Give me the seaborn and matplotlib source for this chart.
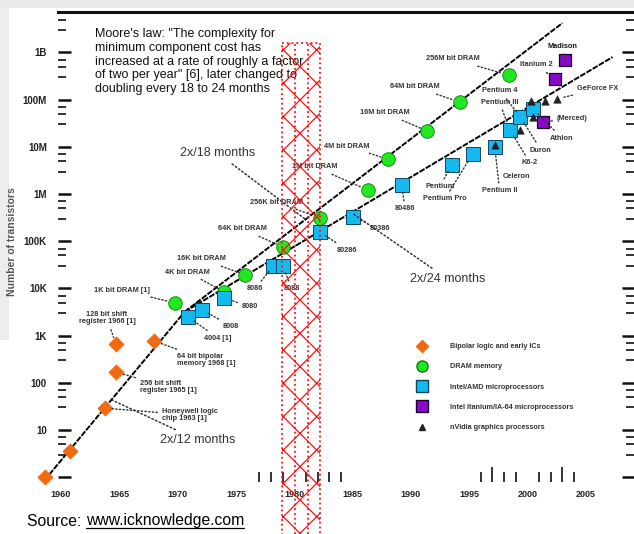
import matplotlib
matplotlib.use("Agg")
import matplotlib.pyplot as plt
import seaborn as sns
import pandas as pd
from matplotlib.transforms import Affine2D, blended_transform_factory
from matplotlib.patches import Rectangle
from matplotlib.lines import Line2D
from matplotlib.ticker import FixedLocator, NullFormatter

# ---------------- data ----------------
bipolar_year = [1958.6, 1960.8, 1963.8, 1964.7, 1964.7, 1968.0]
bipolar_count = [1, 3.6, 29, 169, 665, 770]

dram_year = [1969.8, 1974.0, 1975.8, 1979.0, 1982.2, 1986.3, 1988.0, 1991.4, 1994.2, 1998.4]
dram_count = [4.9e3, 8.4e3, 1.93e4, 7.6e4, 3.1e5, 1.22e6, 5.5e6, 2.17e7, 8.9e7, 3.3e8]

cpu_year = [1970.9, 1972.1, 1974.0, 1978.2, 1979.0, 1982.2, 1985.0, 1989.2,
            1993.5, 1995.3, 1997.2, 1998.5, 1999.4, 2000.5]
cpu_count = [2.5e3, 3.5e3, 6.3e3, 3.0e4, 3.0e4, 1.57e5, 3.27e5, 1.56e6,
             4.1e6, 7.1e6, 9.9e6, 2.28e7, 4.3e7, 6.3e7]

ia64_year = [2001.3, 2002.4, 2003.2]
ia64_count = [3.4e7, 2.7e8, 6.9e8]

gpu_year = [1997.2, 1999.4, 2000.5, 2000.3, 2001.5, 2002.5]
gpu_count = [1.1e7, 2.3e7, 4.3e7, 9.4e7, 9.4e7, 1.03e8]

trend_rate = ["12", "12", "18", "18", "24", "24"]
trend_year = [1958.6, 1970.6, 1970.6, 2003.0, 1970.6, 2007.3]
trend_count = [0.87, 3.2e3, 3.2e3, 4.2e9, 3.2e3, 8.0e8]

legend_labels = ["Bipolar logic and early ICs", "DRAM memory",
                 "Intel/AMD microprocessors", "Intel Itanium/IA-64 microprocessors",
                 "nVidia graphics processors"]

ytick_values = [1, 10, 100, 1e3, 1e4, 1e5, 1e6, 1e7, 1e8, 1e9, 1e10]
ytick_labels = ["1", "10", "100", "1K", "10K", "100K", "1M", "10M", "100M", "1B", "10B"]
xtick_years = [1960, 1965, 1970, 1975, 1980, 1985, 1990, 1995, 2000, 2005]
xminor_years = [1977, 1978, 1979, 1980, 1981, 1982, 1983, 1984, 1985,
                1996, 1997, 1998, 1999, 2000, 2001, 2002, 2003, 2004]

point_notes = [
    ("bip", 4, "128 bit shift\nregister 1966 [1]"),
    ("bip", 5, "64 bit bipolar\nmemory 1968 [1]"),
    ("bip", 3, "256 bit shift\nregister 1965 [1]"),
    ("bip", 2, "Honeywell logic\nchip 1963 [1]"),
    ("dram", 0, "1K bit DRAM [1]"),
    ("dram", 1, "4K bit DRAM"),
    ("dram", 2, "16K bit DRAM"),
    ("dram", 3, "64K bit DRAM"),
    ("dram", 4, "256K bit DRAM"),
    ("dram", 5, "1M bit DRAM"),
    ("dram", 6, "4M bit DRAM"),
    ("dram", 7, "16M bit DRAM"),
    ("dram", 8, "64M bit DRAM"),
    ("dram", 9, "256M bit DRAM"),
    ("cpu", 0, "4004 [1]"),
    ("cpu", 1, "8008"),
    ("cpu", 2, "8080"),
    ("cpu", 3, "8086"),
    ("cpu", 4, "8088"),
    ("cpu", 5, "80286"),
    ("cpu", 6, "80386"),
    ("cpu", 7, "80486"),
    ("cpu", 8, "Pentium"),
    ("cpu", 9, "Pentium Pro"),
    ("cpu", 10, "Pentium II"),
    ("cpu", 10, "Celeron"),
    ("cpu", 11, "Pentium III"),
    ("cpu", 12, "Pentium 4"),
    ("cpu", 13, "Athlon"),
    ("cpu", 12, "Duron"),
    ("cpu", 11, "K6-2"),
    ("ia64", 0, "(Merced)"),
    ("ia64", 1, "Itanium 2"),
    ("ia64", 2, "Madison"),
    ("gpu", 5, "GeForce FX"),
]
line_notes = ["2x/18 months", "2x/24 months", "2x/12 months"]
moore_text = ("Moore's law: \"The complexity for\n"
              "minimum component cost has\n"
              "increased at a rate of roughly a factor\n"
              "of two per year\" [6], later changed to\n"
              "doubling every 18 to 24 months")

# ---------------- layout ----------------
W, H = 634, 534
# (x, y, ha, leader) in image pixels for each point note
note_pos = [
    (107, 318, "center", True), (177, 360, "left", True), (140, 387, "left", True),
    (162, 415, "left", True),
    (150, 290, "right", True), (210, 272, "right", True), (226, 259, "right", True),
    (267, 229, "right", True), (303, 202, "right", True), (338, 167, "right", True),
    (370, 146, "right", True), (410, 113, "right", True), (440, 87, "right", True),
    (480, 59, "right", True),
    (204, 338, "left", True), (223, 326, "left", True), (242, 307, "left", True),
    (255, 289, "center", True), (292, 289, "center", True), (337, 250, "left", True),
    (370, 228, "left", True), (395, 209, "left", True), (425, 187, "left", True),
    (423, 199, "left", True), (482, 191, "left", True), (503, 177, "left", False),
    (518, 102, "right", True), (518, 91, "right", True), (550, 138, "left", True),
    (530, 150, "left", True), (522, 163, "left", True),
    (557, 119, "left", True), (520, 65, "left", True), (547, 46, "left", True),
    (577, 89, "left", True),
]
line_note_pos = [((180, 153), (305, 219)), ((410, 279), (352, 213)), ((160, 440), (112, 400))]

sns.set_theme(style="white")
plt.rcParams["font.family"] = ["Liberation Sans", "DejaVu Sans"]
plt.rcParams["hatch.linewidth"] = 0.9

fig = plt.figure(figsize=(W / 100, H / 100), dpi=100)
fig.patch.set_facecolor("white")
PX = Affine2D().scale(1 / W, -1 / H).translate(0, 1) + fig.transFigure

ax = fig.add_axes([58 / W, 1 - 482 / H, (634 - 58) / W, (482 - 12) / H])
ax.set_facecolor("none")

trend = pd.DataFrame({"year": trend_year, "count": trend_count, "rate": trend_rate})
sns.lineplot(data=trend, x="year", y="count", units="rate", estimator=None,
             color="black", lw=1.4, linestyle=(0, (3, 0.7)), ax=ax, zorder=2,
             clip_on=False)

c_orange, c_green, c_cyan, c_purple = "#f26a10", "#22e822", "#14b9f0", "#8a08c8"
sns.scatterplot(x=bipolar_year, y=bipolar_count, marker="D", s=60, color=c_orange,
                edgecolor=c_orange, linewidth=0.5, ax=ax, zorder=3, clip_on=False)
sns.scatterplot(x=dram_year, y=dram_count, marker="o", s=95, color=c_green,
                edgecolor="#0a7a0a", linewidth=0.6, ax=ax, zorder=3)
sns.scatterplot(x=cpu_year, y=cpu_count, marker="s", s=95, color=c_cyan,
                edgecolor="#0b4660", linewidth=0.7, ax=ax, zorder=3)
sns.scatterplot(x=ia64_year, y=ia64_count, marker="s", s=80, color=c_purple,
                edgecolor="#1a0030", linewidth=0.9, ax=ax, zorder=3)
sns.scatterplot(x=gpu_year, y=gpu_count, marker="^", s=28, color="#222222",
                edgecolor="#222222", linewidth=0.5, ax=ax, zorder=4)

ax.set_yscale("log")
ax.set_xlim(1959.74, 2009.14)
ax.set_ylim(0.791, 7.21e9)
ax.set_xlabel("")
ax.set_ylabel("")

for s in ["left", "right", "bottom"]:
    ax.spines[s].set_visible(False)
ax.spines["top"].set_linewidth(2.2)
ax.spines["top"].set_color("#111111")

ax.yaxis.set_major_locator(FixedLocator(ytick_values))
ax.set_yticklabels(ytick_labels)
ax.yaxis.set_minor_locator(FixedLocator(
    [v * m for v in ytick_values[:-1] for m in (3, 5, 7)]))
ax.yaxis.set_minor_formatter(NullFormatter())
ax.tick_params(axis="y", which="major", left=True, right=True, direction="in",
               length=9, width=1.8, color="#111111", labelsize=7, pad=8,
               labelcolor="#222222")
ax.tick_params(axis="y", which="minor", left=True, right=True, direction="in",
               length=6, width=1.2, color="#111111")
for lab in ax.get_yticklabels():
    lab.set_fontweight("bold")

ax.set_xticks(xtick_years)
ax.set_xticklabels([str(y) for y in xtick_years])
ax.set_xticks(xminor_years, minor=True)
ax.tick_params(axis="x", which="major", bottom=True, length=0, labelsize=6.5,
               pad=6, labelcolor="#222222")
ax.tick_params(axis="x", which="minor", bottom=True, direction="in", length=7,
               width=1.2, color="#111111")
for lab in ax.get_xticklabels():
    lab.set_fontweight("bold")
for t, loc in zip(ax.xaxis.get_minor_ticks(len(xminor_years)), xminor_years):
    if loc in (1985, 2000):
        t.tick1line.set_markersize(11)
blend = blended_transform_factory(ax.transData, ax.transAxes)
ax.text(2010, -0.03, "2010", transform=blend, ha="center", va="top", fontsize=6.5,
        fontweight="bold", color="#222222", clip_on=False)

# point notes
series = {"bip": (bipolar_year, bipolar_count), "dram": (dram_year, dram_count),
          "cpu": (cpu_year, cpu_count), "ia64": (ia64_year, ia64_count),
          "gpu": (gpu_year, gpu_count)}
for (key, i, txt), (tx, ty, ha, lead) in zip(point_notes, note_pos):
    xs, ys = series[key]
    kw = dict(fontsize=5.3, fontweight="bold", color="#333333", ha=ha, va="center",
              linespacing=1.05, zorder=5)
    if key == "ia64" and i == 2:
        kw["color"] = "#111111"
    if lead:
        ax.annotate(txt, xy=(xs[i], ys[i]), xycoords="data", xytext=(tx, ty),
                    textcoords=PX, annotation_clip=False,
                    arrowprops=dict(arrowstyle="-", linestyle=":", lw=1.0,
                                    color="#333333", shrinkA=1, shrinkB=5), **kw)
    else:
        ax.text(tx, ty, txt, transform=PX, **kw)

for txt, ((tx, ty), (lx, ly)) in zip(line_notes, line_note_pos):
    ax.annotate(txt, xy=(lx, ly), xycoords=PX, xytext=(tx, ty), textcoords=PX,
                fontsize=9, color="#333333", ha="left", va="center",
                arrowprops=dict(arrowstyle="-", linestyle=":", lw=1.1,
                                color="#333333", shrinkA=2, shrinkB=0))

ax.text(95, 28, moore_text, transform=PX, fontsize=9, color="#111111",
        ha="left", va="top", linespacing=1.2)

# legend
handles = [
    Line2D([], [], ls="none", marker="D", ms=6, color=c_orange),
    Line2D([], [], ls="none", marker="o", ms=8, color=c_green, mec="#0a7a0a"),
    Line2D([], [], ls="none", marker="s", ms=8, color=c_cyan, mec="#0b4660"),
    Line2D([], [], ls="none", marker="s", ms=8, color=c_purple, mec="#1a0030"),
    Line2D([], [], ls="none", marker="^", ms=5, color="#222222"),
]
leg = ax.legend(handles, legend_labels, loc="upper left",
                bbox_to_anchor=(415 / W, 1 - 343 / H), bbox_transform=fig.transFigure,
                frameon=False, fontsize=5.2, handlelength=2, handletextpad=2.8,
                borderpad=0, borderaxespad=0, labelspacing=1.83)
for t in leg.get_texts():
    t.set_fontweight("bold")
    t.set_color("#333333")

# axis title and source line
fig.text(12 / W, 1 - 242 / H, "Number of transistors", rotation=90, fontsize=7.5,
         fontweight="bold", color="#555555", ha="center", va="center")
fig.text(27 / W, 1 - 521 / H, "Source: ", fontsize=11.3, color="black",
         ha="left", va="center")
fig.canvas.draw()
r = fig.canvas.get_renderer()
src = fig.texts[-1].get_window_extent(r)
url = fig.text(src.x1 / W, 1 - 521 / H, "www.icknowledge.com", fontsize=11.3,
               color="black", ha="left", va="center")
ue = url.get_window_extent(r)
fig.add_artist(Line2D([ue.x0 / W, ue.x1 / W], [(ue.y0 + 1) / H, (ue.y0 + 1) / H],
                      transform=fig.transFigure, color="black", lw=0.9))

# faint scan background edges
fig.add_artist(Rectangle((0, 0), 9, 340, transform=PX, color="#ededed", lw=0, zorder=-1))
fig.add_artist(Rectangle((0, 0), W, 8, transform=PX, color="#e9e9e9", lw=0, zorder=-1))

# red hatched overlay strip
strip = Rectangle((282, 43), 38, 500, transform=PX, facecolor="none",
                  edgecolor="#ff1010", hatch="x", lw=1.3, linestyle=":", zorder=20)
fig.add_artist(strip)
for xv in (294.5, 307.5):
    fig.add_artist(Line2D([xv / W, xv / W], [0, 1 - 43 / H], transform=fig.transFigure,
                          color="#ff1010", lw=1.3, ls=":", zorder=21))

fig.savefig("out.png", dpi=100)
